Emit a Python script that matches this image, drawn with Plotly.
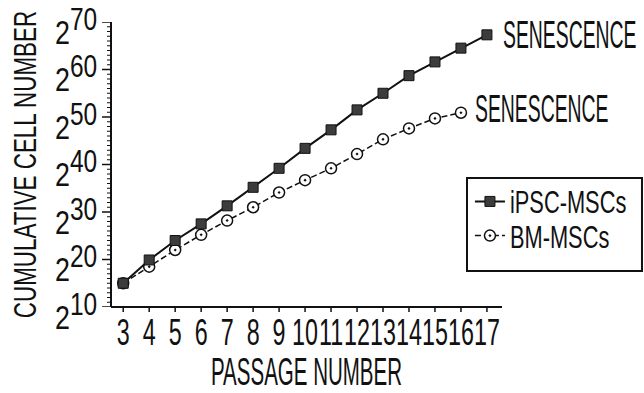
import json
import plotly.graph_objects as go

# Cumulative cell number (log2) per passage
passages_ipsc = [3, 4, 5, 6, 7, 8, 9, 10, 11, 12, 13, 14, 15, 16, 17]
ipsc_msc = [215.0, 219.9, 224.0, 227.5, 231.3, 235.2, 239.2, 243.4, 247.3,
            251.5, 255.0, 258.7, 261.6, 264.5, 267.3]

passages_bm = [3, 4, 5, 6, 7, 8, 9, 10, 11, 12, 13, 14, 15, 16]
bm_msc = [215.0, 218.5, 222.0, 225.2, 228.2, 231.0, 234.1, 236.7, 239.2,
          242.2, 245.3, 247.6, 249.7, 250.9]

y_major = [210, 220, 230, 240, 250, 260, 270]
y_ticktext = [f"2<sup><span style='font-size:31px'>{v - 200}</span></sup>" for v in y_major]
y_minor = [v for v in range(210, 271) if v % 10]
x_ticks = list(range(3, 18))

FONT = "Liberation Sans, Arial, sans-serif"
INK = "#111111"
CLEAR = "rgba(0,0,0,0)"

fig = go.Figure()

fig.add_trace(go.Scatter(
    x=passages_bm, y=bm_msc, name="BM-MSCs", mode="lines+markers",
    line=dict(color=INK, width=1.5, dash="6px,3px"),
    marker=dict(symbol="circle-dot", size=11, color="white",
                line=dict(color=INK, width=1.5)),
    legendrank=2,
))
fig.add_trace(go.Scatter(
    x=passages_ipsc, y=ipsc_msc, name="iPSC-MSCs", mode="lines+markers",
    line=dict(color=INK, width=2),
    marker=dict(symbol="square", size=10, color="#3c3c3c",
                line=dict(color=INK, width=1)),
    legendrank=1,
))

fig.add_annotation(x=passages_ipsc[-1], y=ipsc_msc[-1], text="SENESCENCE",
                   showarrow=False, xanchor="left", yanchor="middle",
                   xshift=14, yshift=0,
                   font=dict(family=FONT, size=38, color=INK))
fig.add_annotation(x=passages_bm[-1], y=bm_msc[-1], text="SENESCENCE",
                   showarrow=False, xanchor="left", yanchor="middle",
                   xshift=12, yshift=4,
                   font=dict(family=FONT, size=38, color=INK))

# axis lines
fig.add_shape(type="line", xref="paper", yref="paper", x0=0, x1=1, y0=0, y1=0,
              line=dict(color=INK, width=2))
fig.add_shape(type="line", xref="paper", yref="paper", x0=0, x1=0, y0=0, y1=1,
              line=dict(color=INK, width=2))
# tick marks, pixel-sized, hanging off the axis lines
for t in x_ticks:
    fig.add_shape(type="line", xref="x", yref="paper", ysizemode="pixel", yanchor=0,
                  x0=t, x1=t, y0=0, y1=-5, line=dict(color=INK, width=1.5))
for v in y_major:
    fig.add_shape(type="line", xref="paper", yref="y", xsizemode="pixel", xanchor=0,
                  x0=0, x1=-9, y0=v, y1=v, line=dict(color=INK, width=1.5))
for v in y_minor:
    fig.add_shape(type="line", xref="paper", yref="y", xsizemode="pixel", xanchor=0,
                  x0=0, x1=-4, y0=v, y1=v, line=dict(color=INK, width=1))

# legend frame
fig.add_shape(type="rect", xref="paper", yref="paper",
              x0=0.9105, x1=1.358, y0=0.1263, y1=0.4526,
              line=dict(color=INK, width=2), fillcolor=CLEAR)

fig.update_layout(
    template="none",
    width=644, height=393,
    margin=dict(l=111, r=142, t=22, b=86, autoexpand=False),
    paper_bgcolor="white", plot_bgcolor="white",
    font=dict(family=FONT, color=INK),
    showlegend=True,
    legend=dict(x=0.918, y=0.448, xanchor="left", yanchor="top",
                bgcolor=CLEAR, borderwidth=0,
                font=dict(family=FONT, size=24, color=INK),
                tracegroupgap=0),
    xaxis=dict(range=[2.53, 17.58], tickmode="array", tickvals=x_ticks,
               ticktext=[str(v) for v in x_ticks], tickangle=0,
               showline=False, ticks="outside", ticklen=5, tickcolor=CLEAR,
               ticklabelstandoff=-12,
               showgrid=False, zeroline=False,
               tickfont=dict(family=FONT, size=37, color=INK),
               title=dict(text="PASSAGE NUMBER", standoff=17,
                          font=dict(family=FONT, size=38, color=INK))),
    yaxis=dict(range=[210, 270], tickmode="array", tickvals=y_major,
               ticktext=y_ticktext, ticklabeloverflow="allow",
               showline=False, ticks="outside", ticklen=8, tickcolor=CLEAR,
               ticklabelshift=10, ticklabelstandoff=-2,
               showgrid=False, zeroline=False,
               tickfont=dict(family=FONT, size=34, color=INK),
               title=dict(text="CUMULATIVE CELL NUMBER", standoff=5,
                          font=dict(family=FONT, size=32, color=INK))),
)

# Narrow the lettering to a condensed face:
# [scale x, scale y, anchor, local shift x, local shift y]
CONDENSE = {
    ".xtick text": [0.63, 1.0, "middle", 0, 0],
    ".ytick text": [0.79, 1.0, "end", 0, 0],
    ".xtitle": [0.54, 1.0, "middle", 0, 0],
    ".ytitle": [0.70, 1.0, "middle", 0, 7],
    ".annotation-text": [0.51, 1.0, "start", 0, 0],
    ".legendtext": [0.91, 1.3, "start", 0, 0],
}
post_js = """
document.body.style.margin = '0';
var gd = document.getElementById('{plot_id}');
var spec = %s;
Object.keys(spec).forEach(function(sel) {
  var s = spec[sel];
  gd.querySelectorAll(sel).forEach(function(t) {
    var b = t.getBBox();
    if (!b.width) return;
    var ax = s[2] === 'start' ? b.x : (s[2] === 'end' ? b.x + b.width : b.x + b.width / 2);
    var ay = b.y + b.height / 2;
    var tr = t.getAttribute('transform') || '';
    t.setAttribute('transform', tr + ' translate(' + s[3] + ' ' + s[4] + ')' +
      ' translate(' + ax + ' ' + ay + ') scale(' + s[0] + ' ' + s[1] + ')' +
      ' translate(' + (-ax) + ' ' + (-ay) + ')');
  });
});
// drop empty placeholder text nodes left in the svg
gd.querySelectorAll('text').forEach(function(t) {
  if (!t.textContent.trim()) t.parentNode.removeChild(t);
});
""" % json.dumps(CONDENSE)

fig.write_html("out.html", post_script=post_js, config={"responsive": False})
